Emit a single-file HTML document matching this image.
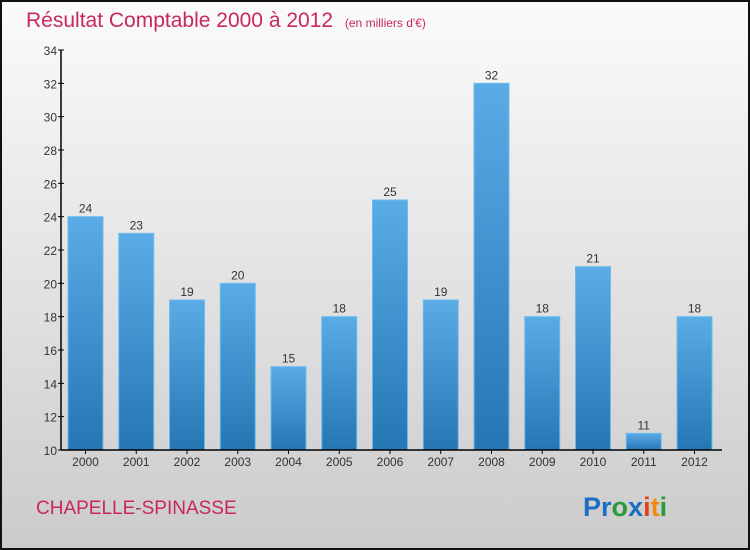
<!DOCTYPE html>
<html><head><meta charset="utf-8"><style>
body{margin:0;width:750px;height:550px;overflow:hidden;font-family:"Liberation Sans",sans-serif;}
svg{display:block}
</style></head><body>
<svg id="c" width="750" height="550">
<defs>
<linearGradient id="bg" x1="0" y1="0" x2="0" y2="1"><stop offset="0" stop-color="#fbfbfb"/><stop offset="1" stop-color="#cbcbcb"/></linearGradient>
<linearGradient id="bar" x1="0" y1="0" x2="0" y2="1"><stop offset="0" stop-color="#5aabe6"/><stop offset="1" stop-color="#2576b3"/></linearGradient>
</defs>
<rect x="1" y="1" width="748" height="548" fill="url(#bg)" stroke="#111" stroke-width="2"/>
<text x="26" y="27" font-size="21" fill="#c8285a">Résultat Comptable 2000 à 2012 <tspan font-size="12" dx="6">(en milliers d'€)</tspan></text>
<text x="36" y="514" font-size="19" fill="#c8285a">CHAPELLE-SPINASSE</text>
<text x="583" y="516" font-size="27" font-weight="bold"><tspan fill="#1a6fc4">Pr</tspan><tspan fill="#2a9a3a">o</tspan><tspan fill="#1a6fc4">x</tspan><tspan fill="#e8401a">i</tspan><tspan fill="#f08a10">t</tspan><tspan fill="#2a9a3a">i</tspan></text>
<g id="g"></g>
</svg>
<script>
const categories=["2000","2001","2002","2003","2004","2005","2006","2007","2008","2009","2010","2011","2012"];
const values=[24,23,19,20,15,18,25,19,32,18,21,11,18];
const yTicks=[10,12,14,16,18,20,22,24,26,28,30,32,34];
const ns="http://www.w3.org/2000/svg";
const g=document.getElementById('g');
const yMin=10,yMax=34,y0=450,y1=50;
const y=v=>y0-(v-yMin)*(y0-y1)/(yMax-yMin);
const x=i=>68+i*50.75;
function mk(t,a){const e=document.createElementNS(ns,t);for(const k in a)e.setAttribute(k,a[k]);g.appendChild(e);return e;}
values.forEach((v,i)=>{
 const r=mk('rect',{x:x(i),y:y(v),width:35,height:y0-y(v),fill:'url(#bar)',stroke:'#6cbcf0','stroke-width':1});
 
 
 const t=mk('text',{x:x(i)+17.5,y:y(v)-4,'font-size':12,'text-anchor':'middle',fill:'#333'});
 t.textContent=v;
 
 
 const c=mk('text',{x:x(i)+17.5,y:466,'font-size':12,'text-anchor':'middle',fill:'#333'});
 c.textContent=categories[i];
 
 
 const tk=mk('line',{x1:x(i)+17.5,x2:x(i)+17.5,y1:450,y2:454,stroke:'#000'});
 
 
});
yTicks.forEach(v=>{
 const l=mk('line',{x1:58,x2:64,y1:y(v),y2:y(v),stroke:'#000'});
 
 
 const t=mk('text',{x:57,y:y(v)+5,'font-size':12,'text-anchor':'end',fill:'#333'});
 t.textContent=v;
 
 
});
const ya=mk('line',{x1:61,x2:61,y1:50,y2:450,stroke:'#000','stroke-width':1.5});


const xa=mk('line',{x1:61,x2:722,y1:450,y2:450,stroke:'#000','stroke-width':1.5});


</script>
</body></html>
